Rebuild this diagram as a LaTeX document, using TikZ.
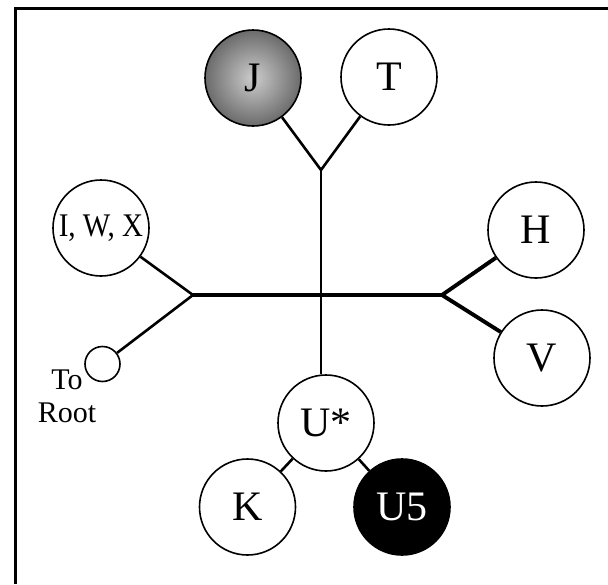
\documentclass[tikz,border=0pt]{standalone}
\usepackage{fontspec}
\setmainfont{Liberation Serif}
\begin{document}
\begin{tikzpicture}[
    x=1pt, y=-1pt,
    taxon/.style={draw, circle, line width=1.6pt, minimum size=96pt, inner sep=0pt, fill=white, font=\fontsize{42}{44}\selectfont},
    stub/.style={draw, circle, line width=1.6pt, minimum size=35pt, inner sep=0pt},
    branch/.style={line width=2.6pt},
    trunk/.style={line width=3.3pt},
    fork/.style={line width=3.9pt}
]
  \useasboundingbox (0,0) rectangle (608,584);
  % Frame
  \draw[line width=3pt] (15.5,584) -- (15.5,8.5) -- (608,8.5);

  % Haplogroups
  \node[taxon, shading=radial, inner color=black!20, outer color=black!58] (j) at (253,78) {J};
  \node[taxon] (t) at (389,77) {T};
  \node[taxon, font=\fontsize{33}{35}\selectfont] (iwx) at (101,228) {\scalebox{0.88}[1]{I, W, X}};
  \node[taxon] (h) at (536,230) {H};
  \node[taxon] (v) at (542,358) {V};
  \node[taxon] (ustar) at (326,423) {U*};
  \node[taxon] (k) at (247.5,507) {K};
  \node[taxon, fill=black, text=white] (u5) at (402,507) {U5};
  \node[stub] (root) at (102.5,364) {};
  \node[font=\fontsize{30}{33}\selectfont, align=center] (rootlabel) at (67,396) {To\\Root};

  % Branch points
  \coordinate (tj) at (321,170);
  \coordinate (lj) at (193,295);
  \coordinate (rj) at (442,295);

  % Tree
  \draw[trunk] (lj) -- (rj);
  \draw[branch] (tj) -- (tj |- ustar.north);
  \draw[branch] (tj) -- (j);
  \draw[branch] (tj) -- (t);
  \draw[branch] (lj) -- (iwx);
  \draw[branch] (lj) -- (root);
  \draw[fork] (rj) -- (h);
  \draw[fork] (rj) -- (v);
  \draw[branch] (ustar) -- (k);
  \draw[branch] (ustar) -- (u5);
\end{tikzpicture}
\end{document}
